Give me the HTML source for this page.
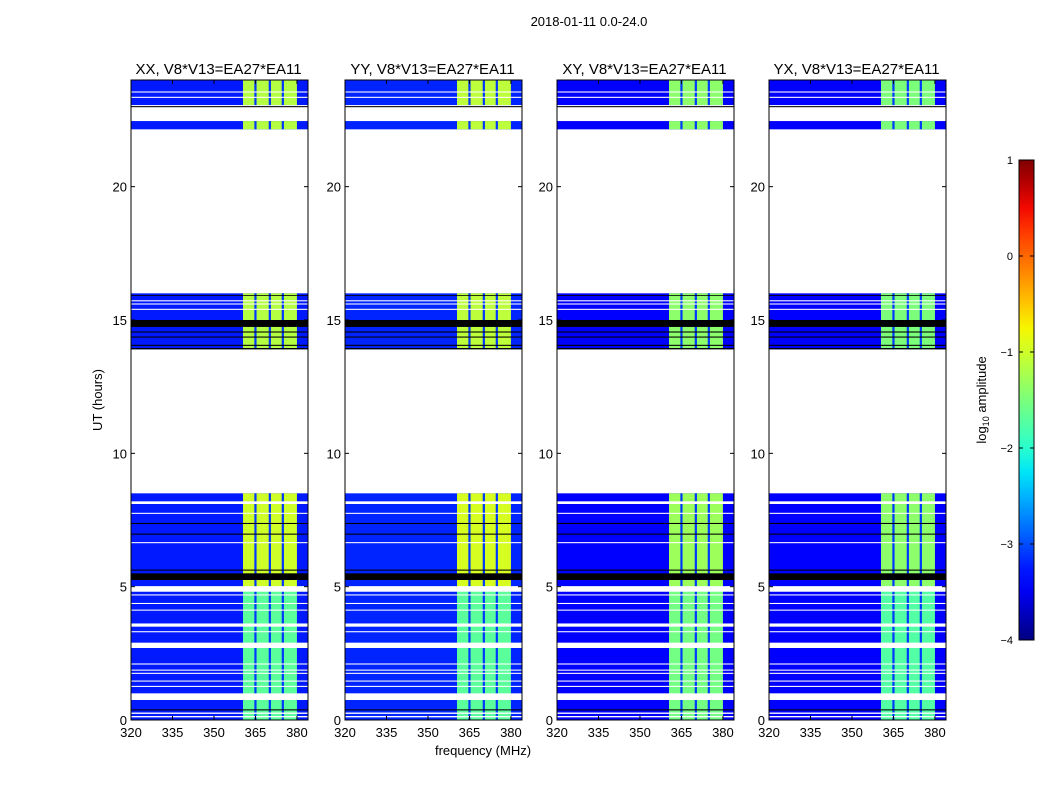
<!DOCTYPE html>
<html><head><meta charset="utf-8"><style>
body{margin:0;background:#fff;}
svg{display:block;font-family:"Liberation Sans",sans-serif;}
</style></head><body>
<svg id="fig" width="1050" height="800" viewBox="0 0 1050 800"></svg>
<script>
// ---- data ----
const panelTitles = ["XX, V8*V13=EA27*EA11","YY, V8*V13=EA27*EA11","XY, V8*V13=EA27*EA11","YX, V8*V13=EA27*EA11"];
const xTicks = [320,335,350,365,380];
const yTicks = [0,5,10,15,20];
const cbTicks = [1,0,-1,-2,-3,-4];
const dataSegments = [[0,8.5],[13.9,16.0],[22.15,22.46],[23.06,24]];
const whiteFlags = [[0.1,0.15],[0.23,0.28],[0.75,1.0],[1.24,1.28],[1.44,1.48],[1.73,1.77],[1.85,1.89],[2.08,2.12],[2.7,2.9],[3.29,3.33],[3.5,3.62],[4.1,4.14],[4.35,4.39],[4.67,4.71],[4.81,5.02],[6.63,6.67],[7.73,7.77],[8.1,8.2],[15.38,15.42],[15.58,15.62],[15.7,15.74],[23.33,23.37],[23.53,23.57]];
const blackFlags = [[0.36,0.4],[5.25,5.5],[5.6,5.64],[6.95,6.99],[7.35,7.39],[14.74,15.0],[14.53,14.57],[14.34,14.38],[14.03,14.07],[13.9,13.95],[22.98,23.02],[15.9,15.93]];
const noiseLevel = [-3.25,-3.2,-3.45,-3.4];
const bandLow = [-1.7,-1.7,-1.55,-1.75];
const bandHigh = [-1.0,-0.95,-1.3,-1.4];
const bandTop = [-1.15,-1.1,-1.4,-1.5];
const bandRange = [360.5,380];
const notches = [365,370.2,374.9];
const notchLevel = -3.1;
// ---- layout ----
const panelX = [131,345,557,769], PW=177, PT=80, PB=720;
const X0=320, X1=384, Y0=0, Y1=24;
const cbX=1019, cbW=15, cbT=160, cbB=640, cbMin=-4, cbMax=1;
const NS="http://www.w3.org/2000/svg";
const svg=document.getElementById('fig');
function el(t,a,p){const e=document.createElementNS(NS,t);for(const k in a)e.setAttribute(k,a[k]);(p||svg).appendChild(e);return e;}
function jet(v){let t=(v-cbMin)/(cbMax-cbMin);t=Math.max(0,Math.min(1,t));
 const cl=x=>Math.max(0,Math.min(1,x));
 const r=t<0.35?0:t<0.66?(t-0.35)/0.31:t<0.89?1:1-(t-0.89)/0.11*0.5;
 const g=t<0.125?0:t<0.375?(t-0.125)/0.25:t<0.64?1:t<0.91?1-(t-0.64)/0.27:0;
 const b=t<0.11?0.5+t/0.11*0.5:t<0.34?1:t<0.65?1-(t-0.34)/0.31:0;
 return `rgb(${Math.round(cl(r)*255)},${Math.round(cl(g)*255)},${Math.round(cl(b)*255)})`;}
const txt=(x,y,s,a,p)=>{const t=el('text',Object.assign({x:x,y:y,'font-size':13,fill:'#000'},a||{}),p);t.textContent=s;return t;};

const sup=txt(589,26,"2018-01-11 0.0-24.0",{'text-anchor':'middle'});



panelTitles.forEach((title,pi)=>{
 const g=el('g',{});
 
 
 const xs=v=>panelX[pi]+(v-X0)/(X1-X0)*PW;
 const ys=v=>PB-(v-Y0)/(Y1-Y0)*(PB-PT);
 const rect=(f0,f1,t0,t1,fill,name)=>{const r=el('rect',{x:xs(f0),y:ys(t1),width:xs(f1)-xs(f0),height:ys(t0)-ys(t1),fill:fill},g);
  
  };
 dataSegments.forEach(([t0,t1])=>{
  rect(X0,X1,t0,t1,jet(noiseLevel[pi]),'heatmap-noise');
  if(t1<=8.5){
   rect(bandRange[0],bandRange[1],t0,5,jet(bandLow[pi]),'heatmap-band');
   rect(bandRange[0],bandRange[1],5,t1,jet(bandHigh[pi]),'heatmap-band');
  } else rect(bandRange[0],bandRange[1],t0,t1,jet(bandTop[pi]),'heatmap-band');
  notches.forEach(n=>rect(n-0.4,n+0.4,t0,t1,jet(notchLevel),'heatmap-notch'));
 });
 whiteFlags.forEach(([a,b])=>rect(X0,X1,a,b,'#fff','flagged-row'));
 blackFlags.forEach(([a,b])=>rect(X0,X1,a,b,'#000','dark-row'));
 const fr=el('rect',{x:panelX[pi],y:PT,width:PW,height:PB-PT,fill:'none',stroke:'#000','stroke-width':1},g);
 
 
 xTicks.forEach(v=>{const x=xs(v);
  el('line',{x1:x,x2:x,y1:PB,y2:PB-4,stroke:'#000'},g);el('line',{x1:x,x2:x,y1:PT,y2:PT+4,stroke:'#000'},g);
  const t=txt(x,737,String(v),{'text-anchor':'middle'},g);
  
  });
 yTicks.forEach(v=>{const y=ys(v);
  el('line',{x1:panelX[pi],x2:panelX[pi]+4,y1:y,y2:y,stroke:'#000'},g);el('line',{x1:panelX[pi]+PW,x2:panelX[pi]+PW-4,y1:y,y2:y,stroke:'#000'},g);
  const t=txt(panelX[pi]-4,y+5,String(v),{'text-anchor':'end'},g);
  
  });
 const tt=txt(panelX[pi]+PW/2-1,74,title,{'text-anchor':'middle','font-size':15},g);
 
 
});
const yl=txt(0,0,"UT (hours)",{'text-anchor':'middle',transform:'translate(102,400) rotate(-90)'});


const xl=txt(483,755,"frequency (MHz)",{'text-anchor':'middle'});


// colorbar
const defs=el('defs',{});const lg=el('linearGradient',{id:'jg',x1:0,y1:1,x2:0,y2:0},defs);
for(let i=0;i<=20;i++){el('stop',{offset:i/20,'stop-color':jet(cbMin+(cbMax-cbMin)*i/20)},lg);}
const cb=el('rect',{x:cbX,y:cbT,width:cbW,height:cbB-cbT,fill:'url(#jg)',stroke:'#000'});


cbTicks.forEach(v=>{const y=cbB-(v-cbMin)/(cbMax-cbMin)*(cbB-cbT);
 el('line',{x1:cbX,x2:cbX+4,y1:y,y2:y,stroke:'#000'});el('line',{x1:cbX+cbW,x2:cbX+cbW-4,y1:y,y2:y,stroke:'#000'});
 const t=txt(1013,y+4,v<0?'\u2212'+(-v):String(v),{'text-anchor':'end','font-size':11});
 
 });
const cl=el('text',{transform:'translate(986,400) rotate(-90)','text-anchor':'middle','font-size':13});
cl.innerHTML='log<tspan font-size="9" dy="3">10</tspan><tspan dy="-3"> amplitude</tspan>';


</script>
</body></html>
